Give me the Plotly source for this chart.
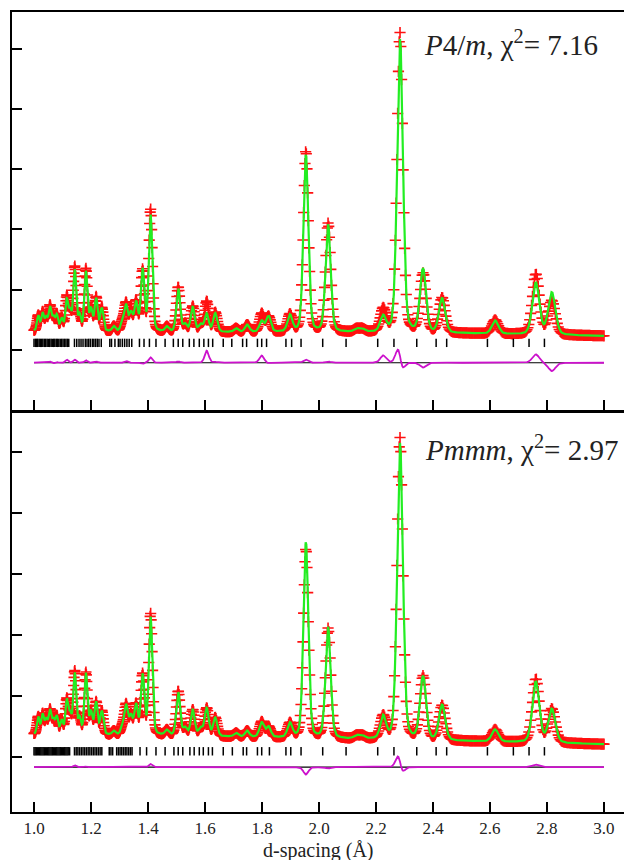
import numpy as np
import plotly.graph_objects as go

# ---------------- data ----------------
N_PTS = 920                      # measured points, log-spaced in d (TOF)
D_FIRST, D_LAST = 1.0, 3.0

PEAK_D = [1.015, 1.030, 1.043, 1.056, 1.068, 1.080, 1.097, 1.115, 1.127, 1.143,
          1.160, 1.182, 1.200, 1.218, 1.238, 1.280, 1.310, 1.323, 1.340, 1.358,
          1.381, 1.409, 1.466, 1.506, 1.530, 1.557, 1.585, 1.606, 1.636, 1.709,
          1.748, 1.799, 1.823, 1.898, 1.954, 2.032, 2.132, 2.152, 2.225, 2.284,
          2.365, 2.432, 2.618, 2.761, 2.817]

TOP_OBS_H = [0.25, 0.30, 0.22, 0.40, 0.20, 0.26, 0.20, 0.55, 0.30, 1.05,
             0.25, 1.02, 0.35, 0.55, 0.38, 0.08, 0.15, 0.45, 0.30, 0.48,
             1.00, 2.02, 0.08, 0.74, 0.12, 0.42, 0.12, 0.50, 0.32, 0.06,
             0.12, 0.30, 0.25, 0.28, 3.00, 1.80, 0.05, 0.05, 0.37, 4.98,
             0.97, 0.58, 0.23, 1.00, 0.56]
TOP_CALC_H = [0.25, 0.29, 0.22, 0.38, 0.21, 0.25, 0.20, 0.50, 0.30, 1.00,
              0.25, 0.98, 0.35, 0.53, 0.38, 0.08, 0.15, 0.42, 0.30, 0.47,
              1.02, 1.93, 0.08, 0.72, 0.12, 0.41, 0.12, 0.30, 0.31, 0.06,
              0.12, 0.18, 0.26, 0.27, 2.95, 1.78, 0.05, 0.05, 0.25, 4.87,
              1.05, 0.57, 0.22, 0.86, 0.70]
TOP_CALC_SHIFT = [0] * 39 + [0.0005] + [0] * 5

BOT_OBS_H = [0.28, 0.32, 0.24, 0.38, 0.22, 0.28, 0.22, 0.55, 0.30, 1.02,
             0.25, 1.00, 0.35, 0.52, 0.38, 0.06, 0.12, 0.48, 0.30, 0.48,
             0.97, 1.98, 0.08, 0.72, 0.12, 0.42, 0.12, 0.45, 0.30, 0.06,
             0.10, 0.25, 0.17, 0.23, 3.10, 1.80, 0.05, 0.05, 0.36, 4.95,
             1.03, 0.57, 0.20, 1.04, 0.55]
BOT_CALC_H = [0.28, 0.32, 0.24, 0.38, 0.22, 0.28, 0.22, 0.54, 0.30, 0.99,
              0.25, 0.99, 0.35, 0.52, 0.38, 0.06, 0.12, 0.47, 0.30, 0.48,
              0.97, 1.93, 0.08, 0.71, 0.12, 0.42, 0.12, 0.45, 0.30, 0.06,
              0.10, 0.24, 0.17, 0.23, 3.22, 1.82, 0.05, 0.05, 0.36, 4.86,
              1.03, 0.58, 0.20, 1.00, 0.55]
BOT_CALC_SHIFT = [0] * 39 + [0.0004] + [0] * 5

BG_D = [1.0, 1.5, 2.0, 2.5, 3.0]
TOP_BG = [0.31, 0.29, 0.29, 0.27, 0.23]
BOT_BG = [0.37, 0.35, 0.30, 0.26, 0.21]

TOP_REFL = [1.000, 1.005, 1.009, 1.013, 1.018, 1.022, 1.027, 1.031, 1.036, 1.041,
            1.046, 1.050, 1.055, 1.060, 1.064, 1.069, 1.073, 1.078, 1.082, 1.087,
            1.092, 1.097, 1.102, 1.107, 1.112, 1.117, 1.122, 1.142, 1.150, 1.158,
            1.165, 1.172, 1.180, 1.186, 1.192, 1.198, 1.205, 1.210, 1.216, 1.222,
            1.228, 1.236, 1.266, 1.272, 1.284, 1.296, 1.302, 1.310, 1.318, 1.326,
            1.334, 1.343, 1.370, 1.386, 1.405, 1.428, 1.460, 1.489, 1.506, 1.522,
            1.545, 1.561, 1.580, 1.596, 1.612, 1.627, 1.664, 1.694, 1.732, 1.746,
            1.784, 1.799, 1.816, 1.884, 1.904, 1.937, 2.013, 2.095, 2.206, 2.263,
            2.343, 2.411, 2.448, 2.591, 2.682, 2.737, 2.791]
BOT_REFL = [1.000, 1.004, 1.008, 1.012, 1.016, 1.020, 1.024, 1.028, 1.032, 1.036,
            1.040, 1.044, 1.048, 1.052, 1.056, 1.060, 1.064, 1.068, 1.072, 1.076,
            1.080, 1.084, 1.088, 1.092, 1.096, 1.100, 1.104, 1.108, 1.112, 1.116,
            1.120, 1.125, 1.142, 1.148, 1.154, 1.160, 1.166, 1.172, 1.178, 1.184,
            1.190, 1.196, 1.202, 1.208, 1.214, 1.220, 1.226, 1.232, 1.238, 1.264,
            1.270, 1.276, 1.290, 1.296, 1.302, 1.308, 1.314, 1.320, 1.326, 1.332,
            1.338, 1.344, 1.372, 1.395, 1.428, 1.460, 1.491, 1.506, 1.522, 1.547,
            1.562, 1.580, 1.594, 1.612, 1.626, 1.664, 1.696, 1.734, 1.746, 1.784,
            1.799, 1.826, 1.884, 1.901, 1.937, 2.013, 2.095, 2.206, 2.263, 2.343,
            2.411, 2.448, 2.591, 2.682, 2.737, 2.791]

TOP_LABEL = "<i>P</i>4/<i>m</i>, χ<sup>2</sup>= 7.16"
BOT_LABEL = "<i>Pmmm</i>, χ<sup>2</sup>= 2.97"
X_TICKS = [1.0, 1.2, 1.4, 1.6, 1.8, 2.0, 2.2, 2.4, 2.6, 2.8, 3.0]
X_TITLE = "d-spacing (Å)"

# panel levels (data units)
TOP_REFL_Y, BOT_REFL_Y = 0.115, 0.095
TOP_DIFF_Y, BOT_DIFF_Y = -0.215, -0.165

# ---------------- build profiles ----------------
d = np.geomspace(D_FIRST, D_LAST, N_PTS)


def profile(pos, hts, shifts, bg, width_frac=0.0105, eta=0.25):
    y = np.interp(d, BG_D, bg)
    for p, a, s in zip(pos, hts, shifts):
        fw = width_frac * p
        u = (d - p - s) / fw
        g = np.exp(-4 * np.log(2) * u ** 2)
        lo = 1.0 / (1.0 + 4 * u ** 2)
        y = y + a * ((1 - eta) * g + eta * lo)
    return y


top_obs = profile(PEAK_D, TOP_OBS_H, [0] * len(PEAK_D), TOP_BG)
top_calc = profile(PEAK_D, TOP_CALC_H, TOP_CALC_SHIFT, TOP_BG)
bot_obs = profile(PEAK_D, BOT_OBS_H, [0] * len(PEAK_D), BOT_BG)
bot_calc = profile(PEAK_D, BOT_CALC_H, BOT_CALC_SHIFT, BOT_BG)

RED = "#ff1010"
GREEN = "#22ee22"
MAG = "#cc11cc"
TXT = "#222222"
FONT = "Liberation Serif"

fig = go.Figure()


def add_panel(obs, calc, refl, refl_y, diff_y, xa, ya):
    fig.add_trace(go.Scatter(x=d, y=obs, mode="markers", xaxis=xa, yaxis=ya,
                             marker=dict(symbol="cross-thin", size=8, color=RED,
                                         line=dict(color=RED, width=1.6))))
    fig.add_trace(go.Scatter(x=d, y=calc, mode="lines", xaxis=xa, yaxis=ya,
                             line=dict(color=GREEN, width=2.2)))
    fig.add_trace(go.Scatter(x=refl, y=[refl_y] * len(refl), mode="markers",
                             xaxis=xa, yaxis=ya,
                             marker=dict(symbol="line-ns", size=6, color="black",
                                         line=dict(color="black", width=1.5))))
    fig.add_trace(go.Scatter(x=[D_FIRST, D_LAST], y=[diff_y, diff_y], mode="lines",
                             xaxis=xa, yaxis=ya, line=dict(color="black", width=1.2)))
    fig.add_trace(go.Scatter(x=d, y=obs - calc + diff_y, mode="lines",
                             xaxis=xa, yaxis=ya, line=dict(color=MAG, width=1.8)))


add_panel(top_obs, top_calc, TOP_REFL, TOP_REFL_Y, TOP_DIFF_Y, "x2", "y2")
add_panel(bot_obs, bot_calc, BOT_REFL, BOT_REFL_Y, BOT_DIFF_Y, "x", "y")

axis_common = dict(showgrid=False, zeroline=False, showline=True, linecolor="black",
                   linewidth=2, ticks="inside", ticklen=10, tickwidth=1.5,
                   tickcolor="black")

fig.update_layout(
    width=624, height=860, margin=dict(l=12, r=0, t=12, b=48),
    paper_bgcolor="white", plot_bgcolor="white", showlegend=False,
    xaxis=dict(domain=[0, 1], range=[0.9228, 3.0702], anchor="y", mirror=True,
               tickvals=X_TICKS, ticktext=[f"{v:.1f}" for v in X_TICKS],
               tickfont=dict(family=FONT, size=17, color=TXT), **axis_common),
    yaxis=dict(domain=[0, 0.49875], range=[-0.90, 5.64], anchor="x",
               tickvals=[0, 1, 2, 3, 4, 5], showticklabels=False, **axis_common),
    xaxis2=dict(domain=[0, 1], range=[0.9228, 3.0702], anchor="y2", mirror=True,
                matches="x", tickvals=X_TICKS, showticklabels=False, **axis_common),
    yaxis2=dict(domain=[0.5025, 1], range=[-1.0, 5.61], anchor="x2",
                tickvals=[0, 1, 2, 3, 4, 5], showticklabels=False, **axis_common),
    annotations=[
        dict(text=X_TITLE, xref="paper", yref="paper", x=0.5, y=-0.0475,
             xanchor="center", yanchor="middle", showarrow=False,
             font=dict(family=FONT, size=20, color=TXT)),
        dict(text=TOP_LABEL, xref="paper", yref="paper", x=0.67, y=0.961,
             xanchor="left", yanchor="middle", showarrow=False,
             font=dict(family=FONT, size=29, color=TXT)),
        dict(text=BOT_LABEL, xref="paper", yref="paper", x=0.6716, y=0.455,
             xanchor="left", yanchor="middle", showarrow=False,
             font=dict(family=FONT, size=29, color=TXT)),
    ],
)

fig.write_html("out.html")
